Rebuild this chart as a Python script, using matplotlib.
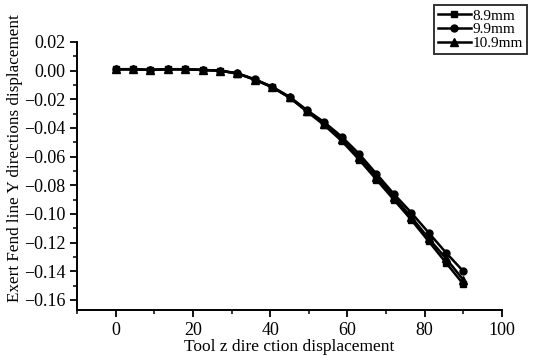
import matplotlib
matplotlib.use("Agg")
import matplotlib.pyplot as plt
from matplotlib.ticker import MultipleLocator

# --- Data ---
x = [0, 4.5, 9, 13.5, 18, 22.5, 27, 31.5, 36, 40.5, 45,
     49.5, 54, 58.5, 63, 67.5, 72, 76.5, 81, 85.5, 90]

y_89 = [0.001, 0.001, 0.0005, 0.001, 0.001, 0.0005, 0.0, -0.002, -0.0063, -0.0116, -0.0188,
        -0.0285, -0.038, -0.049, -0.062, -0.076, -0.090, -0.104, -0.119, -0.134, -0.149]
y_99 = [0.001, 0.001, 0.0005, 0.001, 0.001, 0.0005, 0.0, -0.0018, -0.006, -0.0112, -0.0182,
        -0.0275, -0.036, -0.046, -0.058, -0.072, -0.086, -0.099, -0.113, -0.127, -0.140]
y_109 = [0.001, 0.001, 0.0005, 0.001, 0.001, 0.0005, 0.0, -0.0019, -0.0062, -0.0114, -0.0185,
         -0.028, -0.037, -0.048, -0.060, -0.074, -0.088, -0.102, -0.117, -0.131, -0.146]

labels = ["8.9mm", "9.9mm", "10.9mm"]

plt.rcParams['font.family'] = ['Liberation Serif', 'DejaVu Serif']

fig = plt.figure(figsize=(5.36, 3.56), dpi=100)
ax = fig.add_axes([77 / 536, 1 - 310 / 356, (502 - 77) / 536, (310 - 42) / 356])

ax.plot(x, y_89, color="black", lw=1.8, marker="s", ms=5, label=labels[0])
ax.plot(x, y_99, color="black", lw=1.8, marker="o", ms=5, label=labels[1])
ax.plot(x, y_109, color="black", lw=1.8, marker="^", ms=5.5, label=labels[2])

ax.set_xlim(-10, 100)
ax.set_ylim(-0.167, 0.02)
ax.xaxis.set_major_locator(MultipleLocator(20))
ax.xaxis.set_minor_locator(MultipleLocator(10))
ax.yaxis.set_major_locator(MultipleLocator(0.02))
ax.yaxis.set_minor_locator(MultipleLocator(0.01))
ax.yaxis.set_major_formatter(plt.FuncFormatter(lambda v, p: f"{v:.2f}".replace("-", "\u2212")))

ax.spines["top"].set_visible(False)
ax.spines["right"].set_visible(False)
ax.spines["left"].set_linewidth(1.4)
ax.spines["bottom"].set_linewidth(1.4)
ax.tick_params(which="major", direction="out", length=5, width=1.3, labelsize=13)
ax.tick_params(which="minor", direction="out", length=3, width=1.1)

ax.set_xlabel("Tool z dire ction displacement", fontsize=12.5, labelpad=0)
ax.set_ylabel("Exert Fend line Y directions displacement", fontsize=12.3)
ax.yaxis.set_label_coords(-0.128, 0.565)

leg = fig.legend(loc="upper right", bbox_to_anchor=(527 / 536, 1 - 5 / 356),
                 fontsize=11, frameon=True, fancybox=False, handlelength=2.2,
                 handletextpad=0.1, labelspacing=0.0, borderpad=0.25,
                 borderaxespad=0)
leg.get_frame().set_edgecolor("black")
leg.get_frame().set_linewidth(1.4)

fig.savefig("out.png", dpi=100)
